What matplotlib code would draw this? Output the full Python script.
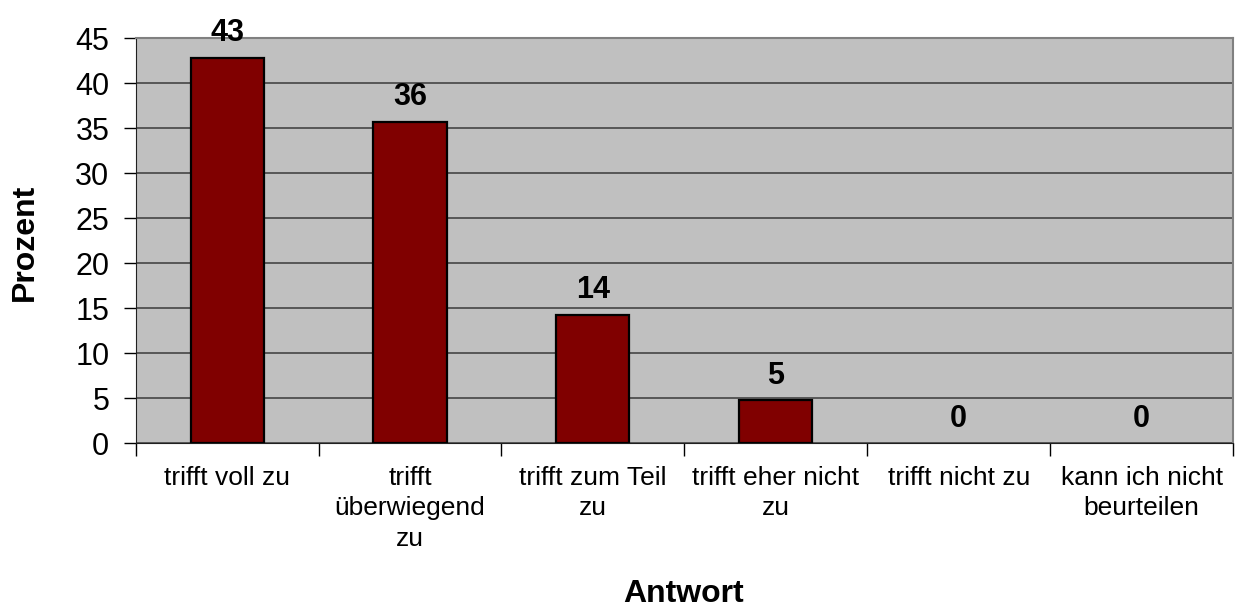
import numpy as np
import matplotlib.pyplot as plt

plt.rcParams['font.family'] = ['Liberation Sans', 'DejaVu Sans']

# Antwortkategorien und Prozentwerte
categories = ['trifft voll zu', 'trifft\nüberwiegend\nzu', 'trifft zum Teil\nzu',
              'trifft eher nicht\nzu', 'trifft nicht zu', 'kann ich nicht\nbeurteilen']
values = [42.86, 35.71, 14.29, 4.76, 0, 0]
value_labels = ['43', '36', '14', '5', '0', '0']
y_ticks = [0, 5, 10, 15, 20, 25, 30, 35, 40, 45]

fig = plt.figure(figsize=(12.38, 6.07), dpi=100)
ax = fig.add_axes([0.1096, 0.2697, 0.996 - 0.1096, 0.937 - 0.2697])
ax.set_facecolor('#C0C0C0')

x = np.arange(len(categories))
edges = ['black' if v > 0 else 'none' for v in values]
ax.bar(x, values, width=0.4, color='#800000', edgecolor=edges, linewidth=1.6, zorder=3)

for xi, v, lab in zip(x, values, value_labels):
    ax.annotate(lab, (xi, v), xytext=(0, 12), textcoords='offset points',
                ha='center', va='baseline', fontsize=22, fontweight='bold', zorder=4)

ax.set_xlim(-0.5, len(categories) - 0.5)
ax.set_ylim(0, 45)
ax.set_yticks(y_ticks)
ax.tick_params(axis='y', labelsize=22, length=9, width=1, direction='out', pad=10)
ax.yaxis.grid(True, color='#3a3a3a', linewidth=1.1, zorder=1)

ax.set_xticks(x)
ax.set_xticklabels(categories, fontsize=19, linespacing=1.35)
ax.set_xticks(np.arange(-0.5, len(categories), 1), minor=True)
ax.tick_params(axis='x', which='major', length=0, pad=16)
ax.tick_params(axis='x', which='minor', length=9, width=1, direction='out')

for s in ['top', 'right']:
    ax.spines[s].set_color('#808080')
    ax.spines[s].set_linewidth(1.5)
ax.spines['left'].set_color('#202020')
ax.spines['bottom'].set_color('#202020')

fig.text(25 / 1238, 0.60, 'Prozent', rotation=90, ha='center', va='center',
         fontsize=23, fontweight='bold')
fig.text(0.5525, 13 / 607, 'Antwort', ha='center', va='center',
         fontsize=23, fontweight='bold')

fig.savefig('out.png', dpi=100)
